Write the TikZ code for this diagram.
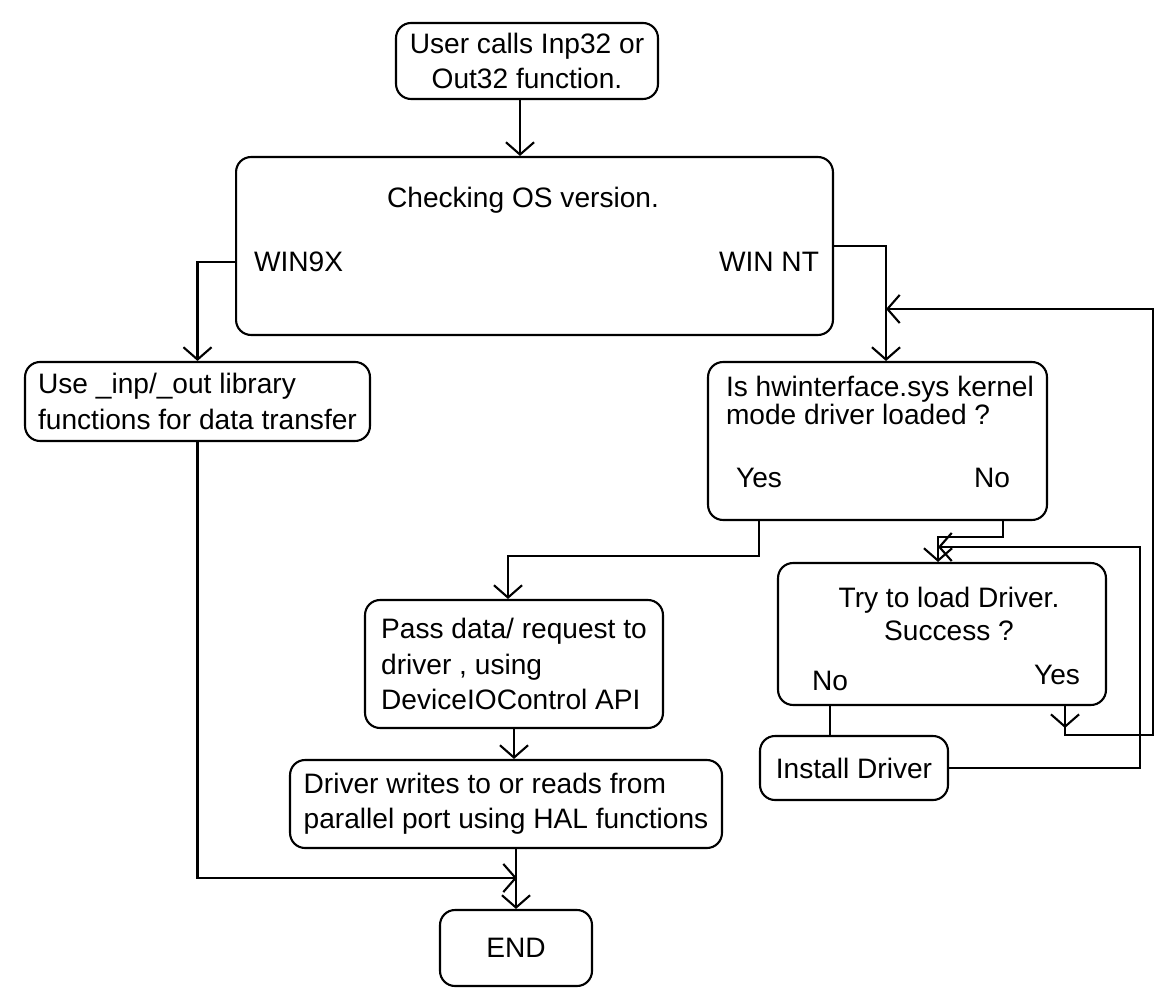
\documentclass[tikz,border=0pt]{standalone}
\usepackage{fontspec}
\setmainfont{Liberation Sans}
\usepackage{tikz}
\usetikzlibrary{arrows.meta}

\begin{document}
\begin{tikzpicture}[x=0.02cm, y=-0.02cm, line width=1.2pt,
    every node/.style={font=\fontsize{16}{20}\selectfont},
    box/.style={draw, rounded corners=0.3cm, align=left, inner sep=0pt},
    lbl/.style={inner sep=0pt, anchor=base},
    arr/.style={-{Straight Barb[length=7pt,width=16pt]}}]
    \useasboundingbox (0,0) rectangle (1166,989);

    % boxes
    \node[box, align=center, minimum width=5.24cm, minimum height=1.52cm] (start) at (527,61)
        {User calls Inp32 or\\Out32 function.};
    \node[box, minimum width=11.94cm, minimum height=3.56cm] (check) at (534.5,246) {};
    \node[lbl] (checktxt) at (523,208) {Checking OS version.};
    \node[lbl, anchor=base west] (w9x) at (253,272) {WIN9X};
    \node[lbl, anchor=base east] (wnt) at (820,272) {WIN NT};
    \node[box, minimum width=6.9cm, minimum height=1.58cm] (use) at (197.5,401.5)
        {Use \_inp/\_out library\\functions for data transfer};
    \node[box, minimum width=6.78cm, minimum height=3.16cm] (hw) at (877.5,441) {};
    \node[lbl, anchor=base west, align=left, font=\fontsize{16}{16}\selectfont] (hwtxt) at (725,425)
        {Is hwinterface.sys kernel\\mode driver loaded ?};
    \node[lbl] (yes) at (759,488) {Yes};
    \node[lbl] (no) at (992,488) {No};
    \node[box, minimum width=6.56cm, minimum height=2.84cm] (try) at (942,634) {};
    \node[lbl, align=center, font=\fontsize{16}{18.5}\selectfont] (trytxt) at (949,640)
        {Try to load Driver.\\Success ?};
    \node[lbl] (tno) at (830,690) {No};
    \node[lbl] (tyes) at (1057,684) {Yes};
    \node[box, align=center, minimum width=3.76cm, minimum height=1.28cm] (inst) at (854,768) {Install Driver};
    \node[box, minimum width=5.96cm, minimum height=2.56cm] (pass) at (514,664)
        {Pass data/ request to\\driver , using\\DeviceIOControl API};
    \node[box, minimum width=8.64cm, minimum height=1.76cm] (drv) at (506,804)
        {Driver writes to or reads from\\parallel port using HAL functions};
    \node[box, align=center, minimum width=3.04cm, minimum height=1.52cm] (stop) at (516,948) {END};

    \coordinate (nt) at (886,309);
    \coordinate (rout) at (1153,309);
    \coordinate (tin) at (938,547);
    \coordinate (rin) at (1140,547);
    \coordinate (join) at (517,878);

    % connectors
    \draw[arr] ([xshift=-0.14cm]start.south) -- ([xshift=-0.14cm]start.south |- check.north);
    \draw[arr] (w9x -| check.west) -| (use.north);
    \draw (check.east) -| (nt);
    \draw[arr] (nt) -- (nt |- hw.north);
    \draw[arr] (use.south) |- (join);
    \draw[arr] (pass.south) -- (pass.south |- drv.north);
    \draw[arr] (stop.north |- drv.south) -- (stop.north);
    \draw[arr] (yes |- hw.south) -- ++(0,35) -| ([xshift=-0.12cm]pass.north);
    \draw ([xshift=0.22cm]no |- hw.south) -- ++(0,16) -| (tin);
    \draw[arr] (tin) -- (tin |- try.north);
    \draw (tno |- try.south) -- (tno |- inst.north);
    \draw[arr] (inst.east) -| (rin) -- (tin);
    \draw[arr] ([xshift=0.16cm]tyes |- try.south) -- ++(0,22);
    \draw[arr] ([xshift=0.16cm]tyes |- try.south) -- ++(0,29) -| (rout) -- (nt);
\end{tikzpicture}
\end{document}
